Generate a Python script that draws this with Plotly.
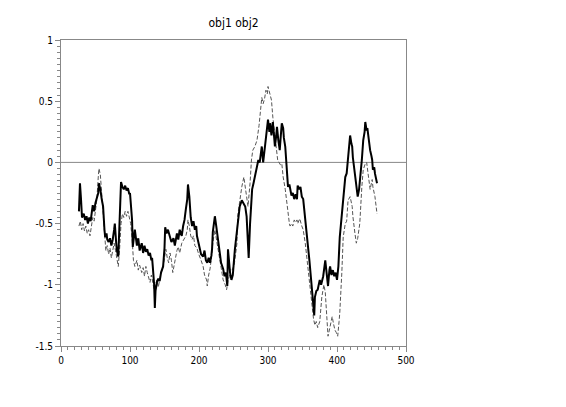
import plotly.graph_objects as go

# ---- data ----
obj1_x = [26, 27.5, 29, 30.4, 33, 35, 37, 39, 41, 43, 46, 48, 50, 52, 54, 55, 57, 59, 61, 63, 64, 66, 67, 69, 71, 73, 75, 77, 78, 80, 81, 83, 84, 85.5, 87, 89, 91, 93, 95, 97, 99, 100, 102, 103, 104, 106, 107, 110, 112, 114, 117, 119, 121, 123, 125, 127, 129, 131, 132, 133, 135, 136, 137, 139, 141, 143, 145, 148, 150, 151, 153, 155, 158, 160, 163, 165, 168, 170, 172, 175, 177, 179, 181, 183, 184, 186, 188, 190, 192, 194, 196, 197, 199, 201, 203, 206, 208, 210, 212, 214, 216, 218, 219, 220, 223, 225, 227, 229, 230, 232, 235, 237, 239, 241, 242, 244, 245, 247, 249, 252, 254, 255, 256, 259, 262, 264, 267, 269, 270, 271, 272, 274, 275, 277, 279, 281, 284, 286, 288, 290, 291, 293, 295, 296, 298, 300, 302, 303, 305, 307, 309, 310, 312, 313, 315, 317, 319, 320, 322, 323, 325, 327, 329, 331, 332, 334, 336, 338, 340, 342, 343, 345, 347, 349, 351, 354, 356, 358, 360, 361, 363, 365, 367, 368, 370, 372, 374, 375, 377, 380, 383, 385, 387, 389, 390, 392, 394, 396, 398, 400, 402, 404, 407, 409, 412, 414, 416, 418, 419, 421, 422, 423, 425, 426, 428, 430, 432, 433, 435, 436, 438, 440, 441, 443, 444, 446, 448, 450, 451, 452, 454, 455, 456, 458]
obj1_y = [-0.40, -0.17, -0.30, -0.45, -0.42, -0.47, -0.44, -0.50, -0.45, -0.48, -0.35, -0.40, -0.33, -0.29, -0.25, -0.17, -0.22, -0.30, -0.36, -0.55, -0.61, -0.58, -0.63, -0.65, -0.62, -0.68, -0.63, -0.55, -0.50, -0.66, -0.72, -0.77, -0.60, -0.45, -0.16, -0.20, -0.22, -0.19, -0.23, -0.21, -0.26, -0.25, -0.40, -0.47, -0.69, -0.62, -0.55, -0.68, -0.62, -0.72, -0.66, -0.74, -0.68, -0.73, -0.71, -0.76, -0.74, -0.80, -0.78, -0.85, -1.00, -1.19, -1.05, -0.98, -0.95, -0.97, -0.90, -0.85, -0.70, -0.53, -0.58, -0.55, -0.60, -0.65, -0.62, -0.68, -0.58, -0.63, -0.55, -0.60, -0.52, -0.47, -0.38, -0.30, -0.18, -0.28, -0.45, -0.52, -0.48, -0.55, -0.52, -0.60, -0.65, -0.71, -0.75, -0.77, -0.72, -0.80, -0.82, -0.78, -0.82, -0.76, -0.70, -0.57, -0.44, -0.52, -0.60, -0.70, -0.74, -0.82, -0.87, -0.93, -0.90, -1.01, -0.71, -0.85, -0.90, -0.96, -0.92, -0.71, -0.60, -0.55, -0.47, -0.36, -0.31, -0.33, -0.36, -0.44, -0.55, -0.63, -0.78, -0.50, -0.36, -0.22, -0.17, -0.12, -0.05, 0.02, 0.0, 0.07, 0.13, 0.0, 0.10, 0.18, 0.28, 0.35, 0.25, 0.32, 0.22, 0.33, 0.20, 0.13, 0.22, 0.29, 0.18, 0.10, 0.25, 0.32, 0.28, 0.20, 0.13, -0.03, -0.20, -0.18, -0.22, -0.27, -0.25, -0.30, -0.26, -0.30, -0.19, -0.22, -0.20, -0.28, -0.30, -0.49, -0.60, -0.69, -0.80, -0.87, -1.00, -1.15, -1.25, -1.10, -1.05, -1.04, -0.98, -0.96, -1.00, -0.93, -0.80, -0.93, -1.01, -0.88, -0.85, -0.92, -0.88, -0.93, -0.90, -0.96, -0.85, -0.61, -0.42, -0.30, -0.12, -0.09, 0.05, 0.12, 0.22, 0.15, 0.13, 0.04, -0.05, -0.12, -0.22, -0.28, -0.22, -0.17, -0.05, 0.02, 0.18, 0.25, 0.33, 0.26, 0.28, 0.18, 0.10, 0.05, 0.02, -0.06, -0.04, -0.09, -0.12, -0.17]

obj2_x = [26, 28, 30, 32, 34, 36, 38, 40, 42, 44, 46, 48, 50, 52, 54, 55, 57, 59, 61, 63, 65, 67, 69, 71, 73, 75, 77, 79, 81, 83, 85, 87, 89, 91, 93, 95, 97, 99, 101, 103, 105, 107, 110, 112, 114, 117, 119, 121, 123, 125, 127, 129, 131, 133, 135, 137, 139, 141, 143, 145, 148, 150, 152, 154, 156, 158, 160, 162, 164, 166, 168, 170, 172, 175, 178, 181, 183, 184, 186, 188, 190, 192, 194, 197, 199, 201, 203, 206, 208, 211, 212, 214, 216, 218, 220, 223, 225, 227, 229, 231, 233, 235, 238, 240, 242, 244, 245, 248, 251, 253, 255, 256, 259, 262, 265, 267, 269, 271, 273, 274, 276, 278, 281, 284, 287, 289, 291, 293, 295, 297, 299, 300, 302, 304, 305, 307, 310, 313, 314, 316, 318, 320, 322, 325, 327, 329, 331, 332, 334, 336, 338, 340, 342, 343, 346, 349, 351, 354, 356, 358, 360, 362, 364, 366, 368, 370, 372, 375, 378, 381, 383, 385, 387, 390, 393, 395, 397, 399, 401, 403, 404, 407, 409, 412, 414, 416, 419, 422, 423, 426, 428, 430, 433, 436, 438, 441, 443, 445, 448, 451, 452, 455, 458]
obj2_y = [-0.52, -0.48, -0.55, -0.50, -0.56, -0.52, -0.58, -0.55, -0.60, -0.50, -0.45, -0.48, -0.38, -0.30, -0.12, -0.05, -0.10, -0.25, -0.40, -0.60, -0.72, -0.68, -0.75, -0.70, -0.78, -0.72, -0.66, -0.72, -0.80, -0.85, -0.70, -0.50, -0.42, -0.45, -0.40, -0.44, -0.40, -0.46, -0.50, -0.62, -0.80, -0.85, -0.80, -0.88, -0.84, -0.90, -0.86, -0.93, -0.85, -0.90, -0.95, -0.98, -0.92, -0.98, -1.04, -1.00, -0.96, -1.02, -0.95, -0.90, -0.85, -0.78, -0.71, -0.78, -0.82, -0.74, -0.80, -0.90, -0.84, -0.77, -0.72, -0.69, -0.74, -0.66, -0.63, -0.60, -0.55, -0.47, -0.52, -0.60, -0.63, -0.60, -0.68, -0.70, -0.74, -0.78, -0.80, -0.85, -0.92, -0.96, -1.01, -0.92, -0.87, -0.78, -0.66, -0.55, -0.62, -0.70, -0.77, -0.82, -0.90, -0.96, -1.00, -1.04, -0.97, -0.93, -0.87, -0.88, -0.84, -0.72, -0.66, -0.44, -0.31, -0.20, -0.12, -0.22, -0.28, -0.36, -0.26, -0.17, 0.02, 0.10, 0.13, 0.18, 0.30, 0.45, 0.53, 0.48, 0.52, 0.59, 0.56, 0.62, 0.58, 0.55, 0.51, 0.37, 0.21, 0.07, 0.02, 0.00, -0.02, -0.01, -0.12, -0.22, -0.33, -0.44, -0.50, -0.52, -0.50, -0.52, -0.47, -0.49, -0.47, -0.50, -0.46, -0.52, -0.55, -0.66, -0.77, -0.87, -0.98, -1.10, -1.20, -1.28, -1.33, -1.30, -1.35, -1.30, -1.10, -1.00, -1.06, -1.26, -1.42, -1.34, -1.26, -1.32, -1.37, -1.39, -1.42, -1.30, -1.23, -0.90, -0.61, -0.50, -0.48, -0.31, -0.28, -0.36, -0.44, -0.58, -0.66, -0.62, -0.50, -0.20, -0.06, -0.01, 0.00, -0.09, -0.22, -0.14, -0.20, -0.28, -0.42]

title_text = "obj1 obj2"
x_ticks = [0, 100, 200, 300, 400, 500]
y_ticks = [-1.5, -1, -0.5, 0, 0.5, 1]
y_ticktext = ["-1.5", "-1", "-0.5", "0", "0.5", "1"]

FONT = "DejaVu Sans Condensed, Liberation Sans Narrow, Liberation Sans, sans-serif"

# page body has an 8px default margin; compensate so the plot box lands at x 61-406, y 40-346
fig = go.Figure()
fig.add_trace(go.Scatter(x=obj2_x, y=obj2_y, mode="lines", name="obj2",
                         line=dict(color="#555555", width=1, dash="4px,2px")))
fig.add_trace(go.Scatter(x=obj1_x, y=obj1_y, mode="lines", name="obj1",
                         line=dict(color="black", width=2)))

axis_common = dict(showgrid=False, showline=True, linecolor="#888888", linewidth=1,
                   mirror=True, ticks="outside", ticklen=5, tickcolor="#888888",
                   tickfont=dict(family=FONT, size=10, color="black"), zeroline=False)

fig.update_layout(
    width=566, height=407,
    paper_bgcolor="white", plot_bgcolor="white",
    margin=dict(l=53, r=168, t=32, b=69),
    showlegend=False,
    title=dict(text=title_text, x=(233.5 - 8) / 566, xanchor="center",
               y=1 - (23 - 8) / 407, yanchor="middle",
               font=dict(family=FONT, size=12, color="black")),
    xaxis=dict(range=[0, 500], tickvals=x_ticks,
               minor=dict(dtick=10, ticks="outside", ticklen=3, tickcolor="#888888"),
               **axis_common),
    yaxis=dict(range=[-1.5, 1], tickvals=y_ticks, ticktext=y_ticktext,
               minor=dict(dtick=0.05, tick0=0, ticks="outside", ticklen=3, tickcolor="#888888"),
               **axis_common),
    shapes=[dict(type="line", xref="paper", x0=0, x1=1, yref="y", y0=0, y1=0,
                 line=dict(color="#888888", width=1), layer="below")],
)

fig.write_html("out.html")
